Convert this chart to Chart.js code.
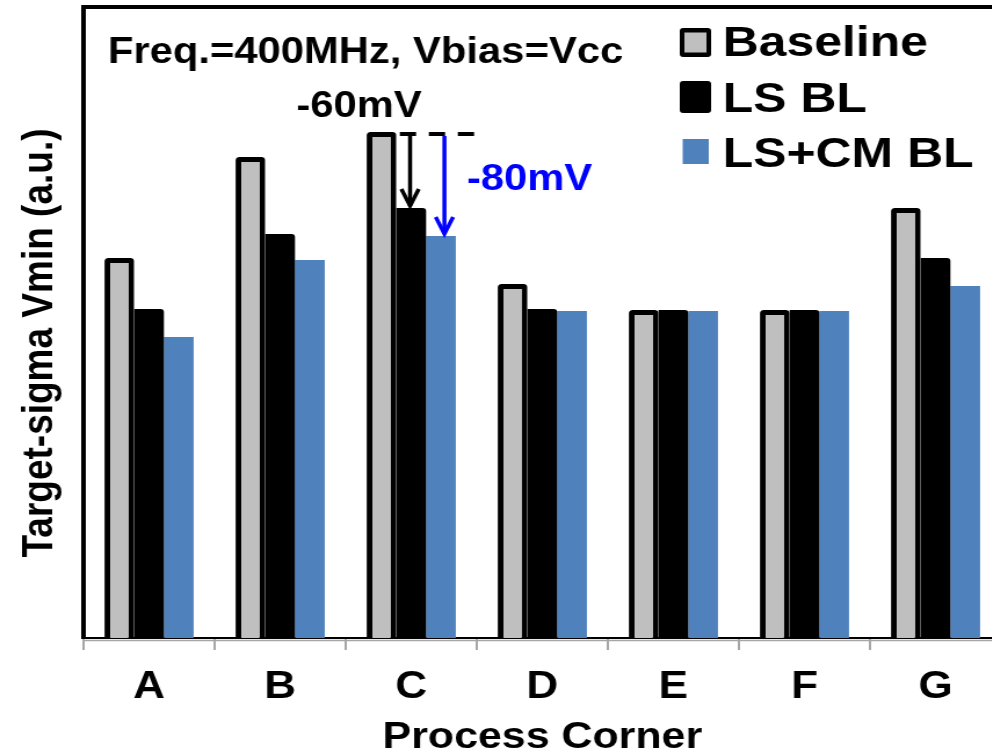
<!DOCTYPE html>
<html>
<head>
<meta charset="utf-8">
<script src="https://cdn.jsdelivr.net/npm/chart.js@4.4.0/dist/chart.umd.min.js"></script>
<style>
  html, body { margin: 0; padding: 0; background: #fff; overflow: hidden; }
  /* the reference is stretched sideways, so the whole chart is too */
  #wrap { width: 870px; height: 754px; transform: scaleX(1.16); transform-origin: 0 0; }
</style>
</head>
<body>
<div id="wrap"><canvas id="vminChart"></canvas></div>
<script>
// Values (a.u., 0 = axis, top of frame = 631)
const categories = ['A', 'B', 'C', 'D', 'E', 'F', 'G'];
const baseline = [380, 481, 506, 354, 328, 328, 430];
const lsBL = [329, 404, 430, 329, 328, 328, 380];
const lsCmBL = [301, 378, 402, 327, 327, 327, 352];
const yMax = 631;

const seriesNames = ['Baseline', 'LS BL', 'LS+CM BL'];
const FONT = '"Liberation Sans", Arial, sans-serif';
const GRAY = '#BFBFBF';
const BLUE = '#4F81BD';

// Frame, legend, y title and the -60mV / -80mV notes
const annotations = {
    id: 'annotations',
    afterDraw(chart) {
        const ctx = chart.ctx;
        const area = chart.chartArea;
        const y = chart.scales.y;

        ctx.save();

        // top edge of the frame
        ctx.strokeStyle = '#000';
        ctx.lineWidth = 4;
        ctx.beginPath();
        ctx.moveTo(area.left - 2, area.top);
        ctx.lineTo(chart.width, area.top);
        ctx.stroke();

        // second (gray) line under the x axis
        ctx.strokeStyle = '#A6A6A6';
        ctx.lineWidth = 1.5;
        ctx.beginPath();
        ctx.moveTo(area.left, area.bottom + 2.5);
        ctx.lineTo(chart.width, area.bottom + 2.5);
        ctx.stroke();

        // y axis title
        ctx.fillStyle = '#000';
        ctx.font = 'bold 37px ' + FONT;
        ctx.textAlign = 'center';
        ctx.textBaseline = 'middle';
        ctx.save();
        ctx.translate(34.5, 343);
        ctx.rotate(-Math.PI / 2);
        ctx.fillText('Target-sigma Vmin (a.u.)', 0, 0);
        ctx.restore();

        // condition text
        ctx.textAlign = 'left';
        ctx.textBaseline = 'alphabetic';
        ctx.font = 'bold 36px ' + FONT;
        ctx.fillText('Freq.=400MHz, Vbias=Vcc', area.left + 21, 63);

        // legend
        const lx = area.left + 514;
        ctx.font = 'bold 43px ' + FONT;
        // Baseline marker
        ctx.fillStyle = '#000';
        ctx.beginPath();
        ctx.roundRect(lx, 28, 27, 29, 3);
        ctx.fill();
        ctx.fillStyle = GRAY;
        ctx.fillRect(lx + 4, 32.5, 19, 20);
        // LS BL marker
        ctx.fillStyle = '#000';
        ctx.beginPath();
        ctx.roundRect(lx, 81, 27, 32, 3);
        ctx.fill();
        // LS+CM BL marker
        ctx.fillStyle = BLUE;
        ctx.fillRect(lx + 2.5, 139, 22.5, 25);

        ctx.fillStyle = '#000';
        ctx.fillText(seriesNames[0], lx + 37, 56);
        ctx.fillText(seriesNames[1], lx + 37, 112);
        ctx.fillText(seriesNames[2], lx + 37, 167);

        // annotations on corner C
        const idx = categories.indexOf('C');
        const b0 = chart.getDatasetMeta(0).data[idx];
        const b1 = chart.getDatasetMeta(1).data[idx];
        const b2 = chart.getDatasetMeta(2).data[idx];
        const topY = y.getPixelForValue(baseline[idx]) + 2;

        // dashed reference line
        ctx.strokeStyle = '#000';
        ctx.lineWidth = 4;
        ctx.setLineDash([14, 11]);
        ctx.beginPath();
        ctx.moveTo(b0.x + b0.width / 2 + 3, topY);
        ctx.lineTo(b2.x + b2.width / 2 + 16, topY);
        ctx.stroke();
        ctx.setLineDash([]);

        function arrow(x, y0, y1, color) {
            ctx.strokeStyle = color;
            ctx.lineWidth = 3.5;
            ctx.lineJoin = 'miter';
            ctx.beginPath();
            ctx.moveTo(x, y0);
            ctx.lineTo(x, y1 - 2);
            ctx.stroke();
            ctx.beginPath();
            ctx.moveTo(x - 7.5, y1 - 19);
            ctx.lineTo(x, y1 - 2);
            ctx.lineTo(x + 7.5, y1 - 19);
            ctx.stroke();
        }
        arrow(b1.x - 1, topY + 2, b1.y, '#000');
        arrow(b2.x + 3, topY + 2, b2.y, '#0000FF');

        ctx.font = 'bold 36px ' + FONT;
        ctx.fillStyle = '#000';
        ctx.fillText('-60mV', b1.x - 99, 117);
        ctx.fillStyle = '#0000FF';
        ctx.fillText('-80mV', b2.x + b2.width / 2 + 9.5, 190);

        ctx.restore();
    }
};

const ctx = document.getElementById('vminChart').getContext('2d');
const vminChart = new Chart(ctx, {
    type: 'bar',
    data: {
        labels: categories,
        datasets: [
            {
                label: seriesNames[0],
                data: baseline,
                backgroundColor: GRAY,
                borderColor: '#000',
                borderWidth: 5,
                borderRadius: { topLeft: 3, topRight: 3 }
            },
            {
                label: seriesNames[1],
                data: lsBL,
                backgroundColor: '#000',
                borderColor: '#000',
                borderWidth: 0,
                borderRadius: { topLeft: 0, topRight: 3 }
            },
            {
                label: seriesNames[2],
                data: lsCmBL,
                backgroundColor: BLUE,
                borderWidth: 0
            }
        ]
    },
    options: {
        responsive: true,
        maintainAspectRatio: false,
        animation: false,
        events: [],
        layout: {
            padding: { top: 7, right: 7, left: 0, bottom: 0 }
        },
        datasets: {
            bar: {
                categoryPercentage: 0.68,
                barPercentage: 1.0
            }
        },
        plugins: {
            legend: { display: false },
            tooltip: { enabled: false }
        },
        scales: {
            x: {
                afterFit: (scale) => { scale.height = 116; },
                grid: {
                    drawOnChartArea: false,
                    offset: true,
                    color: '#A6A6A6',
                    lineWidth: 2,
                    tickLength: 12
                },
                border: { color: '#000', width: 2 },
                ticks: {
                    color: '#000',
                    padding: 15,
                    maxRotation: 0,
                    font: { family: FONT, size: 38, weight: 'bold' }
                },
                title: {
                    display: true,
                    text: 'Process Corner',
                    color: '#000',
                    padding: { top: 0, bottom: -2 },
                    font: { family: FONT, size: 37, weight: 'bold', lineHeight: 1 }
                }
            },
            y: {
                min: 0,
                max: yMax,
                afterFit: (scale) => { scale.width = 72; },
                grid: { display: false },
                border: { color: '#000', width: 4 },
                ticks: { display: false }
            }
        }
    },
    plugins: [annotations]
});
</script>
</body>
</html>
